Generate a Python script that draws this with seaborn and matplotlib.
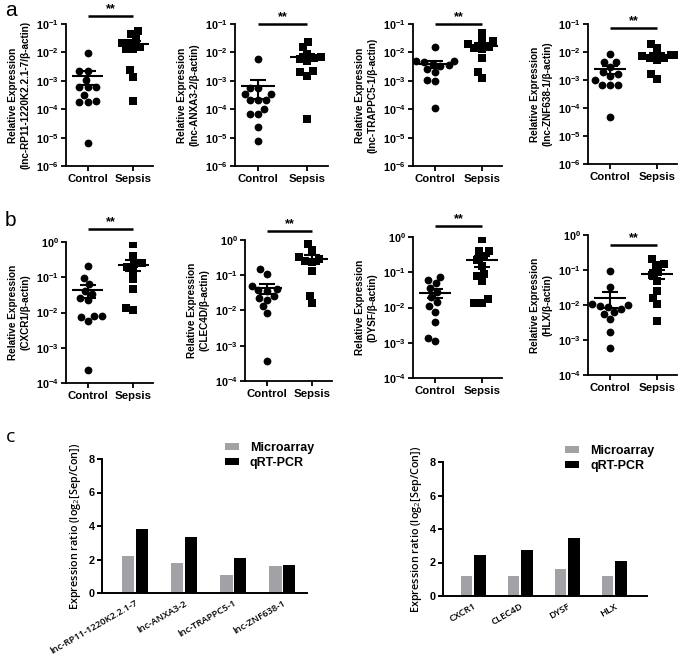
import numpy as np
import pandas as pd
import matplotlib
matplotlib.use('Agg')
import matplotlib.pyplot as plt
import seaborn as sns
import matplotlib.transforms as mtransforms
from matplotlib.ticker import FuncFormatter, LogLocator, NullLocator, FixedLocator

sns.set_theme(style='ticks')
plt.rcParams['font.family'] = ['Liberation Sans', 'DejaVu Sans']
plt.rcParams['mathtext.fontset'] = 'custom'
plt.rcParams['mathtext.rm'] = 'Open Sans'
plt.rcParams['mathtext.it'] = 'Open Sans:italic'
plt.rcParams['mathtext.bf'] = 'Liberation Sans:bold'
for key in ['text.color', 'axes.labelcolor', 'xtick.color', 'ytick.color', 'axes.edgecolor']:
    plt.rcParams[key] = 'black'

# ---------------- data ----------------
groups = ['Control', 'Sepsis']

genes_lnc = ['lnc-RP11-1220K2.2.1-7', 'lnc-ANXA3-2', 'lnc-TRAPPC5-1', 'lnc-ZNF638-1']
genes_mrna = ['CXCR1', 'CLEC4D', 'DYSF', 'HLX']

a1_control = [9.8e-3, 2.2e-3, 2.2e-3, 1.1e-3, 5.9e-4, 5.9e-4, 5.9e-4, 3.2e-4, 2.0e-4, 1.8e-4, 1.8e-4, 6.6e-6]
a1_sepsis = [5.5e-2, 4.4e-2, 3.0e-2, 2.2e-2, 2.2e-2, 1.6e-2, 1.3e-2, 1.3e-2, 2.4e-3, 1.4e-3, 1.9e-4]
a2_control = [5.8e-3, 5.5e-4, 5.5e-4, 3.4e-4, 3.4e-4, 2.1e-4, 2.1e-4, 2.1e-4, 1.0e-4, 6.6e-5, 6.6e-5, 2.3e-5, 7.6e-6]
a2_sepsis = [2.3e-2, 1.5e-2, 9.0e-3, 7.0e-3, 6.5e-3, 6.0e-3, 5.0e-3, 2.0e-3, 2.2e-3, 1.5e-3, 4.6e-5]
a3_control = [1.6e-2, 5.0e-3, 5.0e-3, 4.5e-3, 4.0e-3, 3.5e-3, 3.2e-3, 2.5e-3, 2.0e-3, 1.1e-3, 1.0e-3, 1.1e-4]
a3_sepsis = [4.7e-2, 2.5e-2, 2.5e-2, 2.0e-2, 1.5e-2, 1.4e-2, 1.3e-2, 6.3e-3, 2.1e-3, 1.3e-3]
a4_control = [8.7e-3, 4.5e-3, 4.5e-3, 3.0e-3, 2.0e-3, 1.6e-3, 1.4e-3, 1.0e-3, 6.8e-4, 6.8e-4, 6.8e-4, 4.8e-5]
a4_sepsis = [2.0e-2, 1.35e-2, 7.9e-3, 7.9e-3, 7.1e-3, 6.3e-3, 6.3e-3, 5.0e-3, 1.6e-3, 1.1e-3]

b1_control = [0.21, 0.095, 0.063, 0.040, 0.033, 0.025, 0.022, 0.0079, 0.0079, 0.0076, 0.0056, 0.00024]
b1_sepsis = [0.87, 0.40, 0.25, 0.24, 0.20, 0.15, 0.089, 0.045, 0.012, 0.013]
b2_control = [0.15, 0.11, 0.050, 0.040, 0.038, 0.035, 0.025, 0.022, 0.020, 0.013, 0.0083, 0.00037]
b2_sepsis = [0.76, 0.52, 0.34, 0.28, 0.25, 0.24, 0.13, 0.025, 0.016]
b3_control = [0.074, 0.060, 0.049, 0.035, 0.028, 0.020, 0.014, 0.011, 0.0076, 0.0038, 0.0014, 0.0011]
b3_sepsis = [0.89, 0.40, 0.40, 0.28, 0.22, 0.15, 0.079, 0.089, 0.056, 0.017, 0.013, 0.013]
b4_control = [0.095, 0.032, 0.0105, 0.010, 0.0095, 0.0089, 0.0079, 0.0063, 0.0056, 0.0040, 0.0017, 0.0006]
b4_sepsis = [0.21, 0.14, 0.15, 0.089, 0.071, 0.050, 0.025, 0.016, 0.0105, 0.0036]

c_lnc_microarray = [2.2, 1.8, 1.1, 1.6]
c_lnc_qrtpcr = [3.8, 3.35, 2.1, 1.7]
c_mrna_microarray = [1.2, 1.2, 1.6, 1.2]
c_mrna_qrtpcr = [2.45, 2.75, 3.45, 2.1]

platforms = ['Microarray', 'qRT-PCR']
sig_label = '**'

# ---------------- figure ----------------
W, H = 685, 658
fig = plt.figure(figsize=(W / 100, H / 100), dpi=100)
fig.patch.set_facecolor('white')


def px_axes(l, t, r, b):
    return fig.add_axes([l / W, 1 - b / H, (r - l) / W, (b - t) / H])


def log_fmt(v, p):
    return r'$\mathbf{10^{%d}}$' % int(round(np.log10(v)))


def scatter_panel(box, ctrl, seps, gene, ylim, sig_y):
    ax = px_axes(*box)
    ax.set_facecolor('white')
    ax.set_yscale('log')
    ax.set_ylim(*ylim)
    ax.set_xlim(-0.47, 1.43)
    sns.swarmplot(x=[groups[0]] * len(ctrl), y=ctrl, order=groups, marker='o',
                  color='black', size=5.6, ax=ax, zorder=3)
    sns.swarmplot(x=[groups[1]] * len(seps), y=seps, order=groups, marker='s',
                  color='black', size=5.2, ax=ax, zorder=3)
    for i, vals in enumerate([ctrl, seps]):
        v = np.asarray(vals)
        m = v.mean()
        se = v.std(ddof=1) / np.sqrt(len(v))
        ax.hlines(m, i - 0.34, i + 0.34, color='black', lw=1.5, zorder=4)
        ax.errorbar(i, m, yerr=se, fmt='none', ecolor='black', elinewidth=1.5,
                    capsize=5.5, capthick=1.5, zorder=4)
    ax.set_xlim(-0.47, 1.43)
    ax.set_ylim(*ylim)
    ax.yaxis.set_major_locator(LogLocator(base=10, numticks=12))
    ax.yaxis.set_minor_locator(NullLocator())
    ax.yaxis.set_major_formatter(FuncFormatter(log_fmt))
    sns.despine(ax=ax)
    for s in ['left', 'bottom']:
        ax.spines[s].set_linewidth(1.3)
        ax.spines[s].set_color('black')
    ax.tick_params(axis='both', width=1.3, length=3.5, direction='out', color='black')
    ax.tick_params(axis='y', labelsize=7.8, pad=1.5)
    ax.tick_params(axis='x', labelsize=8.2, pad=2)
    for lab in ax.get_xticklabels():
        lab.set_fontweight('bold')
    ax.set_xlabel('')
    ax.set_ylabel(f'Relative Expression\n({gene}/β-actin)', fontsize=7.2,
                  fontweight='bold', linespacing=1.3, labelpad=4)
    trans = mtransforms.blended_transform_factory(ax.transData, ax.transAxes)
    ax.plot([0, 1], [sig_y, sig_y], transform=trans, color='black', lw=1.8,
            clip_on=False, solid_capstyle='butt')
    ax.text(0.5, sig_y + 0.005, sig_label, transform=trans, ha='center', va='bottom',
            fontsize=9, fontweight='bold')
    return ax


scatter_panel((66, 24, 153, 166), a1_control, a1_sepsis, genes_lnc[0], (1e-6, 1e-1), 1.057)
scatter_panel((235, 24, 328, 166), a2_control, a2_sepsis, genes_lnc[1], (1e-6, 1e-1), 1.0)
scatter_panel((413, 24, 502, 166), a3_control, a3_sepsis, genes_lnc[2], (1e-6, 1e-1), 1.0)
scatter_panel((588, 24, 677, 164), a4_control, a4_sepsis, genes_lnc[3], (1e-6, 1e-1), 0.97)

scatter_panel((66, 242, 153, 383), b1_control, b1_sepsis, genes_mrna[0], (1e-4, 1e0), 1.09)
scatter_panel((245, 240, 332, 381), b2_control, b2_sepsis, genes_mrna[1], (1e-4, 1e0), 1.064)
scatter_panel((413, 237, 502, 378), b3_control, b3_sepsis, genes_mrna[2], (1e-4, 1e0), 1.078)
scatter_panel((588, 235, 677, 375), b4_control, b4_sepsis, genes_mrna[3], (1e-4, 1e0), 0.93)


def bar_panel(box, genes, micro, qpcr, xlim):
    ax = px_axes(*box)
    ax.set_facecolor('white')
    df = pd.DataFrame({
        'gene': genes + genes,
        'platform': [platforms[0]] * len(genes) + [platforms[1]] * len(genes),
        'value': micro + qpcr,
    })
    sns.barplot(data=df, x='gene', y='value', hue='platform', hue_order=platforms,
                palette={platforms[0]: '#a2a2a6', platforms[1]: '#000000'},
                width=0.56, gap=0.1, saturation=1, linewidth=0, ax=ax)
    ax.set_xlim(*xlim)
    ax.set_ylim(0, 8)
    ax.yaxis.set_major_locator(FixedLocator([0, 2, 4, 6, 8]))
    sns.despine(ax=ax)
    for s in ['left', 'bottom']:
        ax.spines[s].set_linewidth(1.4)
        ax.spines[s].set_color('black')
    ax.tick_params(axis='y', width=1.4, length=3.5, labelsize=7.8, pad=1.5, color='black')
    for lab in ax.get_yticklabels():
        lab.set_fontweight('bold')
    ax.tick_params(axis='x', length=0, pad=4)
    for lab in ax.get_xticklabels():
        lab.set_rotation(30)
        lab.set_ha('right')
        lab.set_rotation_mode('anchor')
        lab.set_fontfamily('Open Sans')
        lab.set_fontweight('semibold')
        lab.set_fontsize(6.8)
    ax.set_xlabel('')
    ax.set_ylabel(r'Expression ratio (log$_2$[Sep/Con])', fontfamily='Open Sans',
                  fontweight='semibold', fontsize=7.8, labelpad=4)
    ax.legend(loc='upper left', bbox_to_anchor=(0.6, 1.13), frameon=False,
              handlelength=1.1, handleheight=0.5, handletextpad=0.9,
              labelspacing=0.3, borderaxespad=0, borderpad=0,
              prop={'weight': 'bold', 'size': 9})
    return ax


bar_panel((102, 459, 307, 593), genes_lnc, c_lnc_microarray, c_lnc_qrtpcr, (-0.67, 3.5))
bar_panel((443, 462, 647, 596), genes_mrna, c_mrna_microarray, c_mrna_qrtpcr, (-0.64, 3.7))

fig.text(5 / W, 1 - 1 / H, 'a', fontsize=15, va='top', ha='left')
fig.text(5 / W, 1 - 211 / H, 'b', fontsize=15, va='top', ha='left')
fig.text(6 / W, 1 - 428 / H, 'c', fontsize=14, va='top', ha='left', fontfamily='Open Sans')

fig.savefig('out.png', dpi=100, facecolor='white')
